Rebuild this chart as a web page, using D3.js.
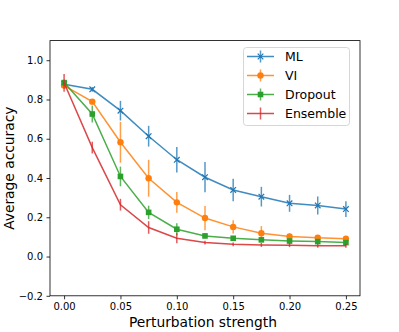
<!DOCTYPE html>
<html><head><meta charset="utf-8">
<script src="https://cdn.jsdelivr.net/npm/d3@7"></script>
<style>body{margin:0;background:#fff}text{font-family:"DejaVu Sans",sans-serif}</style>
</head><body><svg id="c" width="399" height="332"></svg>
<script>
const strengths = [0, 0.025, 0.05, 0.075, 0.1, 0.125, 0.15, 0.175, 0.2, 0.225, 0.25];
const mlMean = [0.878, 0.852, 0.743, 0.613, 0.493, 0.404, 0.339, 0.305, 0.271, 0.260, 0.242];
const mlErr  = [0.01, 0.012, 0.05, 0.053, 0.065, 0.077, 0.057, 0.05, 0.043, 0.046, 0.04];
const viMean = [0.871, 0.789, 0.582, 0.399, 0.276, 0.196, 0.151, 0.119, 0.102, 0.096, 0.091];
const viErr  = [0.012, 0.012, 0.104, 0.094, 0.053, 0.062, 0.034, 0.036, 0.015, 0.01, 0.01];
const dropMean = [0.886, 0.726, 0.408, 0.225, 0.139, 0.105, 0.093, 0.085, 0.079, 0.076, 0.071];
const dropErr  = [0.015, 0.043, 0.05, 0.034, 0.03, 0.012, 0.01, 0.01, 0.01, 0.01, 0.01];
const ensMean = [0.885, 0.555, 0.264, 0.148, 0.093, 0.071, 0.062, 0.059, 0.058, 0.055, 0.055];
const ensErr  = [0.045, 0.03, 0.03, 0.032, 0.025, 0.01, 0.01, 0.01, 0.01, 0.01, 0.01];
const seriesNames = ["ML", "VI", "Dropout", "Ensemble"];
const colors = ["#1f77b4", "#ff7f0e", "#2ca02c", "#d62728"];
const markers = ["x", "circle", "square", "none"];
const xTicks = [0, 0.05, 0.1, 0.15, 0.2, 0.25];
const yTicks = [-0.2, 0, 0.2, 0.4, 0.6, 0.8, 1.0];

const series = [
  {name: seriesNames[0], mean: mlMean, err: mlErr},
  {name: seriesNames[1], mean: viMean, err: viErr},
  {name: seriesNames[2], mean: dropMean, err: dropErr},
  {name: seriesNames[3], mean: ensMean, err: ensErr}
];

const L = 50, R = 360, T = 40.6, B = 295.8;
const svg = d3.select("#c");
const x = d3.scaleLinear().domain([-0.0125, 0.2625]).range([L, R]);
const y = d3.scaleLinear().domain([-0.2, 1.1]).range([B, T]);

// axes
const xa = svg.append("g").attr("transform", `translate(0,${B})`)
  .call(d3.axisBottom(x).tickValues(xTicks).tickFormat(d3.format(".2f")).tickSizeOuter(0).tickSize(3.5).tickPadding(3.5));
const ya = svg.append("g").attr("transform", `translate(${L},0)`)
  .call(d3.axisLeft(y).tickValues(yTicks).tickFormat(d => d3.format(".1f")(d).replace("-", "\u2212")).tickSizeOuter(0).tickSize(3.5).tickPadding(3.5));
[xa, ya].forEach(a => {
  a.selectAll("text").attr("font-size", 10).attr("fill", "#000").attr("font-family", "DejaVu Sans");
  a.selectAll("line").attr("stroke", "#000").attr("stroke-width", 0.8);
  a.select(".domain").remove();
});
// frame
svg.append("rect").attr("x", L).attr("y", T).attr("width", R - L).attr("height", B - T)
  .attr("fill", "none").attr("stroke", "#000").attr("stroke-width", 0.8);

// series
const line = d3.line().x((d, i) => x(strengths[i])).y(d => y(d));
series.forEach((s, k) => {
  const g = svg.append("g");
  const c = colors[k];
  g.selectAll("line.eb").data(s.mean).join("line")
    .attr("x1", (d, i) => x(strengths[i])).attr("x2", (d, i) => x(strengths[i]))
    .attr("y1", (d, i) => y(d - s.err[i])).attr("y2", (d, i) => y(d + s.err[i]))
    .attr("stroke", c).attr("stroke-width", 1.5).attr("opacity", 0.75);
  g.append("path").attr("d", line(s.mean)).attr("fill", "none")
    .attr("stroke", c).attr("stroke-width", 1.5).attr("opacity", 0.85);
  s.mean.forEach((d, i) => drawMarker(g, x(strengths[i]), y(d), markers[k], c));
});

function drawMarker(g, px, py, m, c) {
  if (m === "circle") g.append("circle").attr("cx", px).attr("cy", py).attr("r", 3.2).attr("fill", c);
  else if (m === "square") g.append("rect").attr("x", px - 2.8).attr("y", py - 2.8).attr("width", 5.6).attr("height", 5.6).attr("fill", c);
  else if (m === "x") {
    g.append("path").attr("d", `M${px-2.8},${py-2.8}L${px+2.8},${py+2.8}M${px-2.8},${py+2.8}L${px+2.8},${py-2.8}`)
      .attr("stroke", c).attr("stroke-width", 1.2);
  }
}

// axis labels
svg.append("text").attr("x", 203).attr("y", 326.5).attr("text-anchor", "middle")
  .attr("font-size", 13.8).text("Perturbation strength");
svg.append("text").attr("transform", `translate(13.5,${(T + B) / 2}) rotate(-90)`).attr("text-anchor", "middle")
  .attr("font-size", 13.8).text("Average accuracy");

// legend
const lg = svg.append("g");
lg.append("rect").attr("x", 243.5).attr("y", 47.5).attr("width", 106).attr("height", 78).attr("rx", 3)
  .attr("fill", "#fff").attr("fill-opacity", 0.8).attr("stroke", "#ccc").attr("stroke-width", 0.8);
series.forEach((s, k) => {
  const ly = 56.5 + k * 19;
  const c = colors[k];
  lg.append("line").attr("x1", 247).attr("x2", 274).attr("y1", ly).attr("y2", ly)
    .attr("stroke", c).attr("stroke-width", 1.5).attr("opacity", 0.85);
  lg.append("line").attr("x1", 260.5).attr("x2", 260.5).attr("y1", ly - 6).attr("y2", ly + 6)
    .attr("stroke", c).attr("stroke-width", 1.5).attr("opacity", 0.75);
  drawMarker(lg, 260.5, ly, markers[k], c);
  lg.append("text").attr("x", 285).attr("y", ly + 4.5).attr("font-size", 12.5).text(s.name);
});
</script></body></html>
